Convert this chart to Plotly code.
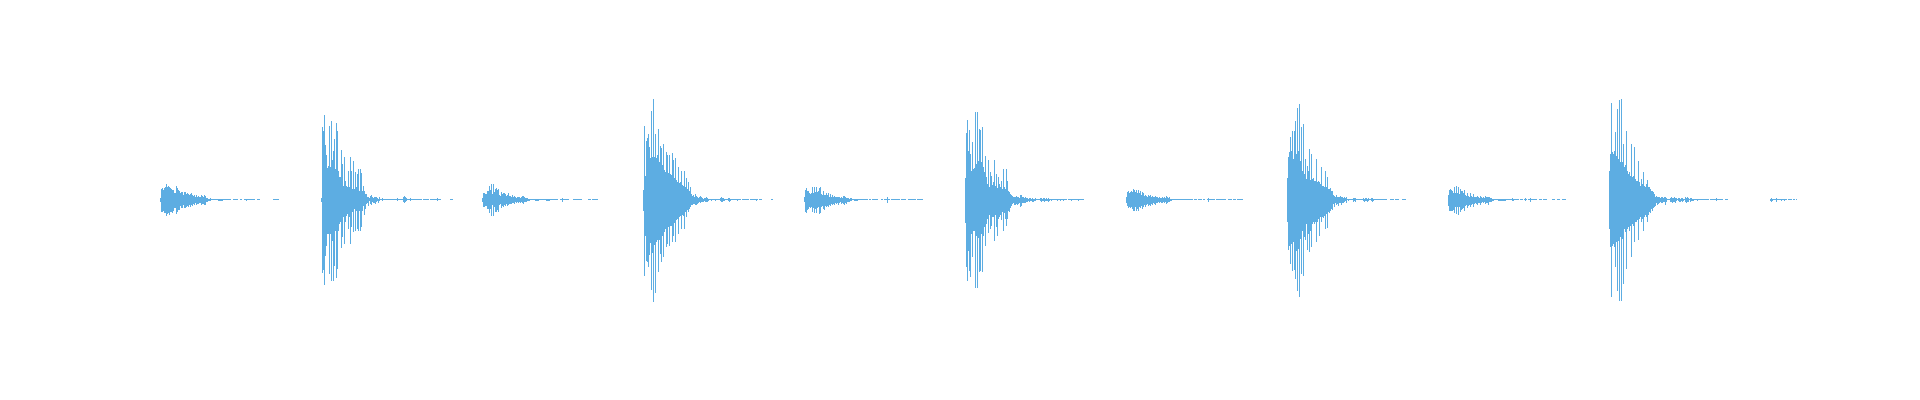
import plotly.graph_objects as go

# waveform columns: positive peak (top) and negative peak (bot) per column, burst by burst
onsets = [160, 321, 482, 643, 804, 965, 1126, 1287, 1448, 1609, 1770]

s1_top = [2, 11, 12, 10, 12, 13, 16, 13, 14, 13, 12, 11, 10, 10, 7, 7, 14, 12, 10, 9, 7, 8, 8, 5, 8, 8, 6, 7, 6, 5,
          6, 7, 5, 4, 5, 3, 5, 3, 4, 3, 3, 5, 4, 3, 5, 4, 2, 2, 1, 1, 2, 1,
          1, 1, 1, 1, 1, 1, 1, 1, 1, 1, 1, 1, 1, 1, 1, 1, 1, 1, 1, 0, 0, 1, 1, 1, 1, 1, 0, 0, 1, 1, 0, 0,
          1, 1, 1, 1, 1, 1, 1, 1, 1, 1, 1, 0, 0, 1, 1, 1, 0, 0, 0, 0, 0, 0, 0, 0, 0, 0, 0, 0, 0, 1, 1, 1, 1, 1, 1]
s1_bot = [2, 12, 12, 11, 13, 13, 16, 14, 13, 15, 12, 12, 13, 11, 8, 8, 14, 12, 10, 10, 6, 8, 8, 5, 8, 8, 7, 6, 7, 5,
          7, 5, 6, 4, 5, 3, 5, 4, 4, 3, 3, 5, 4, 4, 5, 5, 2, 2, 1, 1, 1, 0,
          0, 0, 0, 0, 0, 0, 1, 1, 1, 1, 1, 0, 0, 0, 0, 0, 0, 0, 0, 0, 0, 0, 0, 0, 0, 0, 0, 0, 0, 0, 0, 0, 0, 0, 1]

l1_top = [2, 73, 69, 85, 55, 45, 32, 34, 74, 33, 79, 40, 49, 61, 31, 77, 69, 29, 23, 23, 50, 36, 14, 43, 19, 14, 13, 29, 13, 43,
          29, 11, 39, 11, 28, 13, 26, 31, 9, 31, 27, 9, 14, 9, 6, 6, 3, 3, 2, 4, 5, 3, 2, 3, 3, 3, 2, 1, 3,
          1, 1, 2, 1, 1, 1, 1, 1, 1, 1, 1, 1, 1, 1, 1, 1, 1, 2, 1, 1, 1, 1, 1, 3, 4, 3, 2, 1, 1, 1,
          2, 1, 1, 1, 1, 1, 1, 1, 1, 1, 1, 1, 0, 1, 1, 1, 1, 1, 1, 0, 1, 1, 1, 1, 1, 1, 1, 2, 1, 1,
          1, 0, 0, 0, 0, 0, 0, 0, 0, 0, 1, 1, 1]
l1_bot = [2, 73, 70, 85, 56, 46, 34, 34, 74, 34, 81, 41, 81, 66, 31, 78, 69, 31, 24, 22, 48, 37, 17, 44, 22, 16, 14, 29, 17, 44,
          27, 12, 32, 9, 31, 11, 29, 31, 11, 31, 27, 11, 6, 15, 9, 4, 3, 6, 1, 4, 5, 2, 3, 3, 4, 2, 1, 3, 1,
          0, 0, 1, 0, 0, 0, 0, 0, 0, 0, 0, 0, 0, 0, 0, 0, 0, 1, 0, 0, 0, 0, 0, 2, 3, 2, 1, 0, 0, 0,
          1, 0, 0, 0, 0, 0, 0, 0, 0, 0, 0, 0, 0, 0, 0, 0, 0, 0, 0, 0, 0, 0, 0, 0, 0, 0, 0, 1]

s2_top = [2, 7, 7, 6, 6, 9, 9, 14, 10, 16, 6, 16, 8, 11, 12, 10, 11, 5, 4, 8, 6, 7, 7, 6, 4, 5, 7, 4, 4, 3,
          5, 3, 4, 3, 2, 3, 3, 3, 2, 3, 4, 4, 3, 2, 2, 2, 1, 1,
          1, 1, 1, 1, 1, 1, 1, 1, 1, 1, 1, 1, 1, 1, 1, 1, 1, 1, 1, 1, 1, 1, 1, 1, 1, 1, 1, 1, 0, 0,
          1, 1, 2, 1, 1, 1, 1, 1, 1, 0, 0, 0, 0, 1, 1, 1, 1, 1, 1, 1, 1, 1, 0, 0, 0, 0, 0, 0,
          1, 1, 1, 0, 1, 1, 1, 1, 1, 1]
s2_bot = [2, 7, 7, 6, 6, 9, 9, 13, 9, 16, 5, 16, 7, 12, 12, 10, 12, 5, 4, 8, 6, 7, 5, 6, 4, 6, 5, 4, 4, 4,
          3, 3, 4, 2, 3, 2, 3, 2, 3, 2, 3, 4, 2, 2, 2, 1, 1, 1,
          0, 0, 0, 0, 0, 1, 1, 1, 1, 0, 0, 0, 0, 0, 0, 0, 1, 1, 1, 1, 0, 0, 0, 0, 0, 0, 0, 0, 0, 0, 0, 0, 2]

l2_top = [10, 74, 24, 59, 62, 66, 53, 42, 89, 43, 101, 43, 66, 42, 45, 71, 38, 54, 52, 35, 56, 30, 28, 48, 45, 27, 45, 26, 25, 47,
          40, 22, 42, 20, 18, 33, 17, 18, 29, 15, 14, 29, 13, 22, 11, 18, 9, 13, 6, 4, 5, 3, 6, 4, 3, 2, 3, 4, 3, 2,
          1, 2,
          2, 3, 2, 1, 1, 1, 1, 1, 1, 1, 1, 1, 1, 1, 1, 2, 3, 2, 2, 1, 1, 1, 1, 2, 2, 1,
          1, 1, 1, 1, 1, 1, 1, 1, 1, 1, 0, 1, 1, 1, 1, 1, 1, 1, 0, 1, 1, 1, 1, 1, 1, 1, 1, 0,
          1, 1, 1, 0, 0, 0, 0, 0, 0, 0, 0, 0, 1, 1]
l2_bot = [11, 76, 36, 61, 62, 67, 55, 43, 90, 53, 102, 45, 93, 42, 40, 72, 40, 54, 62, 36, 57, 32, 29, 47, 44, 27, 46, 26, 26, 42,
          36, 23, 42, 20, 19, 34, 17, 16, 29, 15, 16, 29, 12, 17, 10, 12, 9, 7, 5, 5, 4, 4, 5, 5, 4, 3, 2, 3, 2, 2,
          2, 1,
          2, 2, 2, 1, 0, 0, 1, 0, 0, 0, 1, 0, 0, 0, 0, 1, 2, 2, 1, 1, 0, 0, 0, 1, 2, 1,
          0, 0, 0, 0, 0, 0, 1, 0, 0, 0, 0, 0, 0, 0, 0, 0, 0, 0, 0, 0, 0, 0, 0, 0, 0, 1]

s3_top = [3, 10, 12, 9, 9, 7, 6, 7, 13, 7, 13, 8, 13, 8, 9, 12, 13, 6, 5, 9, 5, 5, 7, 5, 7, 3, 6, 3, 5, 3,
          4, 3, 3, 3, 3, 3, 2, 3, 2, 4, 4, 3, 2, 2, 2, 1, 2, 2,
          1, 1, 1, 1, 1, 1, 1, 1, 1, 1, 1, 1, 1, 1, 1, 1, 0, 1, 1, 0, 1, 1, 1, 1, 1, 1, 0, 0, 0, 1, 1, 0,
          1, 1, 1, 3, 1, 1, 0, 1, 1, 1, 1, 1, 1, 1, 1, 1, 0, 1, 1, 1, 1, 1, 0, 0,
          1, 1, 1, 1, 1, 1, 1, 1, 0, 1, 1, 1, 1, 1, 1]
s3_bot = [2, 12, 13, 10, 9, 7, 8, 7, 12, 8, 13, 9, 13, 8, 7, 14, 13, 7, 6, 9, 10, 6, 7, 6, 7, 5, 6, 4, 5, 4,
          5, 3, 4, 3, 5, 3, 2, 4, 3, 4, 5, 3, 4, 2, 2, 2, 1, 1,
          0, 0, 1, 1, 1, 1, 0, 0, 0, 0, 0, 0, 0, 0, 0, 0, 0, 0, 0, 0, 0, 0, 0, 0, 0, 0, 0, 0, 0, 0, 0, 0,
          0, 0, 0, 3]

l3_top = [22, 67, 80, 49, 70, 46, 29, 58, 31, 32, 88, 36, 88, 39, 71, 70, 38, 73, 33, 28, 44, 23, 16, 40, 13, 28, 24, 15, 18, 40,
          14, 26, 12, 23, 16, 13, 19, 11, 31, 13, 11, 31, 19, 9, 8, 6, 5, 4, 3, 3, 3, 4, 3, 3, 2, 5, 5, 3, 3, 2,
          3,
          2, 2, 1, 2, 2, 1, 2, 1, 1, 2, 1, 1, 1, 1, 2, 2, 1, 2, 2, 1, 2, 1, 2, 1, 1, 1, 1, 1, 1,
          1, 1, 1, 1, 1, 1, 1, 1, 1, 1, 1, 1, 0, 1, 1, 1, 1, 1, 1, 1, 1, 1, 1, 1, 1, 1, 1, 1, 1]
l3_bot = [23, 67, 81, 51, 71, 77, 34, 57, 31, 31, 88, 36, 88, 38, 72, 71, 34, 72, 36, 27, 46, 24, 19, 33, 15, 29, 26, 17, 17, 41,
          15, 27, 36, 19, 17, 15, 20, 12, 31, 13, 19, 26, 19, 11, 12, 8, 6, 4, 3, 5, 5, 4, 5, 4, 3, 7, 6, 3, 3, 3,
          3,
          2, 2, 1, 2, 1, 1, 2, 2, 1, 1, 0, 0, 0, 0, 1, 2, 1, 1, 2, 1, 1, 1, 2, 1, 0, 1, 0, 0, 0,
          0, 0, 1, 0, 0, 1, 0, 0, 1, 0, 0, 0, 0, 0, 0, 0, 1, 0, 0, 0, 0, 0, 0, 1]

s4_top = [3, 8, 9, 7, 8, 9, 8, 11, 10, 8, 10, 7, 10, 7, 9, 5, 8, 7, 4, 5, 4, 3, 5, 4, 5, 3, 4, 3, 3, 4,
          3, 3, 2, 3, 2, 2, 3, 2, 3, 2, 4, 3, 2, 3, 1, 1,
          1, 1, 1, 1, 1, 1, 1, 1, 1, 1, 1, 1, 1, 1, 1, 1, 1, 1, 1, 1, 1, 0, 1, 1, 1, 0, 1, 1, 1, 1, 0, 1, 1,
          0, 0, 1, 2, 1, 1, 1, 1, 1, 1, 0, 1, 1, 1, 1, 1, 1, 1, 1, 1, 1, 0, 0, 1, 1, 1, 1, 0, 1, 1, 1, 0,
          1, 1, 1, 1, 1, 1]
s4_bot = [3, 6, 8, 7, 8, 7, 9, 11, 11, 7, 11, 9, 11, 7, 8, 6, 9, 7, 5, 7, 5, 4, 6, 5, 6, 4, 5, 3, 4, 5,
          3, 3, 2, 3, 2, 3, 3, 2, 3, 2, 4, 3, 2, 2, 1, 1,
          0, 0, 0, 0, 0, 0, 0, 0, 0, 0, 0, 0, 0, 0, 0, 0, 0, 0, 0, 0, 0, 0, 0, 0, 0, 0, 0, 0, 0, 0, 0, 0, 0,
          0, 0, 0, 2]

l4_top = [22, 43, 48, 63, 49, 69, 41, 69, 79, 46, 92, 49, 96, 39, 73, 29, 76, 26, 41, 21, 34, 29, 51, 20, 46, 21, 22, 19, 19, 41,
          18, 19, 18, 16, 33, 14, 14, 13, 29, 13, 23, 11, 11, 12, 9, 9, 5, 4, 3, 5, 3, 3, 3, 4, 3, 3, 2, 3, 2, 3,
          1, 1, 1, 1, 1, 1, 2, 2, 2, 1, 1, 1, 1, 1, 1, 1, 2, 1, 2, 2, 1, 2, 1, 1, 2, 2, 1,
          1, 1, 1, 1, 1, 1, 1, 1, 1, 1, 1, 1, 1, 0, 0, 0, 1, 1, 1, 1, 0, 1, 1, 1, 1, 0, 0, 0, 1, 1, 1, 1]
l4_bot = [22, 50, 46, 64, 44, 71, 42, 70, 79, 51, 91, 49, 97, 39, 74, 31, 76, 37, 40, 24, 50, 34, 52, 31, 47, 24, 22, 24, 22, 42,
          22, 19, 36, 17, 22, 17, 18, 16, 29, 14, 28, 12, 13, 11, 9, 10, 4, 7, 3, 5, 4, 6, 3, 3, 5, 3, 3, 2, 1, 3,
          0, 1, 0, 0, 0, 0, 2, 1, 2, 0, 0, 0, 0, 0, 0, 0, 1, 2, 1, 1, 2, 1, 0, 0, 1, 2, 1]

s5_top = [5, 10, 11, 10, 9, 7, 13, 7, 14, 7, 13, 6, 11, 9, 9, 7, 10, 5, 4, 7, 4, 3, 7, 4, 3, 6, 3, 3, 3, 4,
          3, 2, 4, 3, 2, 3, 2, 4, 3, 3, 3, 3, 2, 2, 1, 1,
          1, 1, 1, 1, 1, 1, 1, 1, 1, 1, 1, 1, 1, 1, 1, 1, 1, 1, 2, 1, 1, 1, 1, 1, 1, 0, 1, 1, 1, 0, 1, 2, 1, 0,
          1, 1, 2, 1, 1, 1, 1, 1, 1, 0, 0, 1, 1, 1, 0, 1, 1, 1, 1, 0, 0, 0, 0, 0, 1, 1, 1, 0, 0, 1, 1, 1,
          0, 0, 1, 1, 1, 1]
s5_bot = [6, 11, 11, 11, 11, 10, 13, 7, 14, 7, 15, 7, 12, 10, 9, 8, 11, 6, 5, 8, 6, 5, 7, 5, 4, 7, 4, 3, 4, 5,
          3, 3, 5, 3, 2, 3, 2, 4, 3, 3, 5, 2, 2, 2, 1, 1,
          0, 0, 0, 0, 1, 1, 1, 1, 1, 1, 1, 1, 0, 0, 0, 0, 0, 0, 1, 1, 0, 0, 0, 0, 0, 0, 0, 0, 0, 0, 0, 1,
          0, 0, 0, 0, 2]

l5_top = [29, 46, 97, 48, 46, 49, 68, 44, 91, 41, 100, 38, 101, 38, 56, 33, 35, 69, 29, 26, 28, 24, 56, 23, 24, 53, 21, 19, 19, 39,
          18, 14, 21, 16, 28, 14, 13, 16, 20, 13, 13, 11, 9, 9, 8, 6, 3, 4, 3, 3, 3, 2, 3, 3, 2, 3, 3, 2,
          1, 1, 1, 2, 3, 2, 2, 3, 2, 2, 1, 2, 2, 1, 2, 2, 1, 1, 3, 2, 3, 2, 1, 2, 2, 1,
          1, 1, 1, 1, 1, 1, 1, 1, 1, 1, 1, 1, 1, 1, 1, 1, 0, 1, 1, 1, 1, 1, 1, 2, 1, 1, 1, 1, 1, 1,
          0, 0, 1, 1, 1]
l5_bot = [29, 47, 97, 46, 44, 47, 67, 42, 91, 41, 101, 37, 101, 39, 84, 29, 32, 69, 29, 27, 31, 26, 57, 24, 26, 42, 22, 22, 20, 40,
          19, 17, 22, 19, 31, 17, 15, 17, 22, 15, 12, 13, 9, 11, 8, 7, 6, 3, 5, 4, 3, 2, 3, 3, 2, 2, 5, 2,
          0, 0, 0, 2, 2, 3, 2, 2, 3, 1, 0, 1, 2, 2, 1, 2, 1, 0, 2, 3, 2, 2, 0, 2, 1, 1,
          1, 0, 0, 0, 1, 0, 0, 0, 0, 0, 0, 0, 0, 0, 0, 0, 0, 0, 0, 0, 0, 0, 0, 1]

t1_top = [1, 2, 1, 1, 1, 1, 2, 1, 1, 1, 1, 1, 1, 1, 1, 1, 1, 0, 1, 1, 1, 1, 0, 1, 1, 0, 1]
t1_bot = [1, 2, 1, 0, 0, 0, 2, 0, 0, 0, 0, 1, 0, 0, 1]

tops = [s1_top, l1_top, s2_top, l2_top, s3_top, l3_top, s4_top, l4_top, s5_top, l5_top, t1_top]
bots = [s1_bot, l1_bot, s2_bot, l2_bot, s3_bot, l3_bot, s4_bot, l4_bot, s5_bot, l5_bot, t1_bot]


def build_columns(onsets, tops, bots):
    col_x = []
    col_base = []
    col_height = []
    for onset, top, bot in zip(onsets, tops, bots):
        for i, t in enumerate(top):
            b = bot[i] if i < len(bot) else 0
            if t == 0 and b == 0:
                continue
            col_x.append(onset + i)
            col_base.append(-b)
            col_height.append(t + b)
    return col_x, col_base, col_height


col_x, col_base, col_height = build_columns(onsets, tops, bots)

fig = go.Figure(go.Bar(
    x=col_x,
    y=col_height,
    base=col_base,
    width=1,
    marker=dict(color='#5DADE2', line=dict(width=0)),
    hoverinfo='skip',
))

fig.update_layout(
    width=1920,
    height=400,
    margin=dict(l=0, r=0, t=0, b=0),
    plot_bgcolor='white',
    paper_bgcolor='white',
    showlegend=False,
    bargap=0,
    xaxis=dict(range=[-0.5, 1919.5], visible=False, fixedrange=True),
    yaxis=dict(range=[-200, 200], visible=False, fixedrange=True),
)

# drop the default page margin so the 1920x400 figure fills the window exactly
fig.write_html("out.html", config={'displayModeBar': False},
               post_script="document.body.style.margin = '0'; document.body.style.overflow = 'hidden';")
